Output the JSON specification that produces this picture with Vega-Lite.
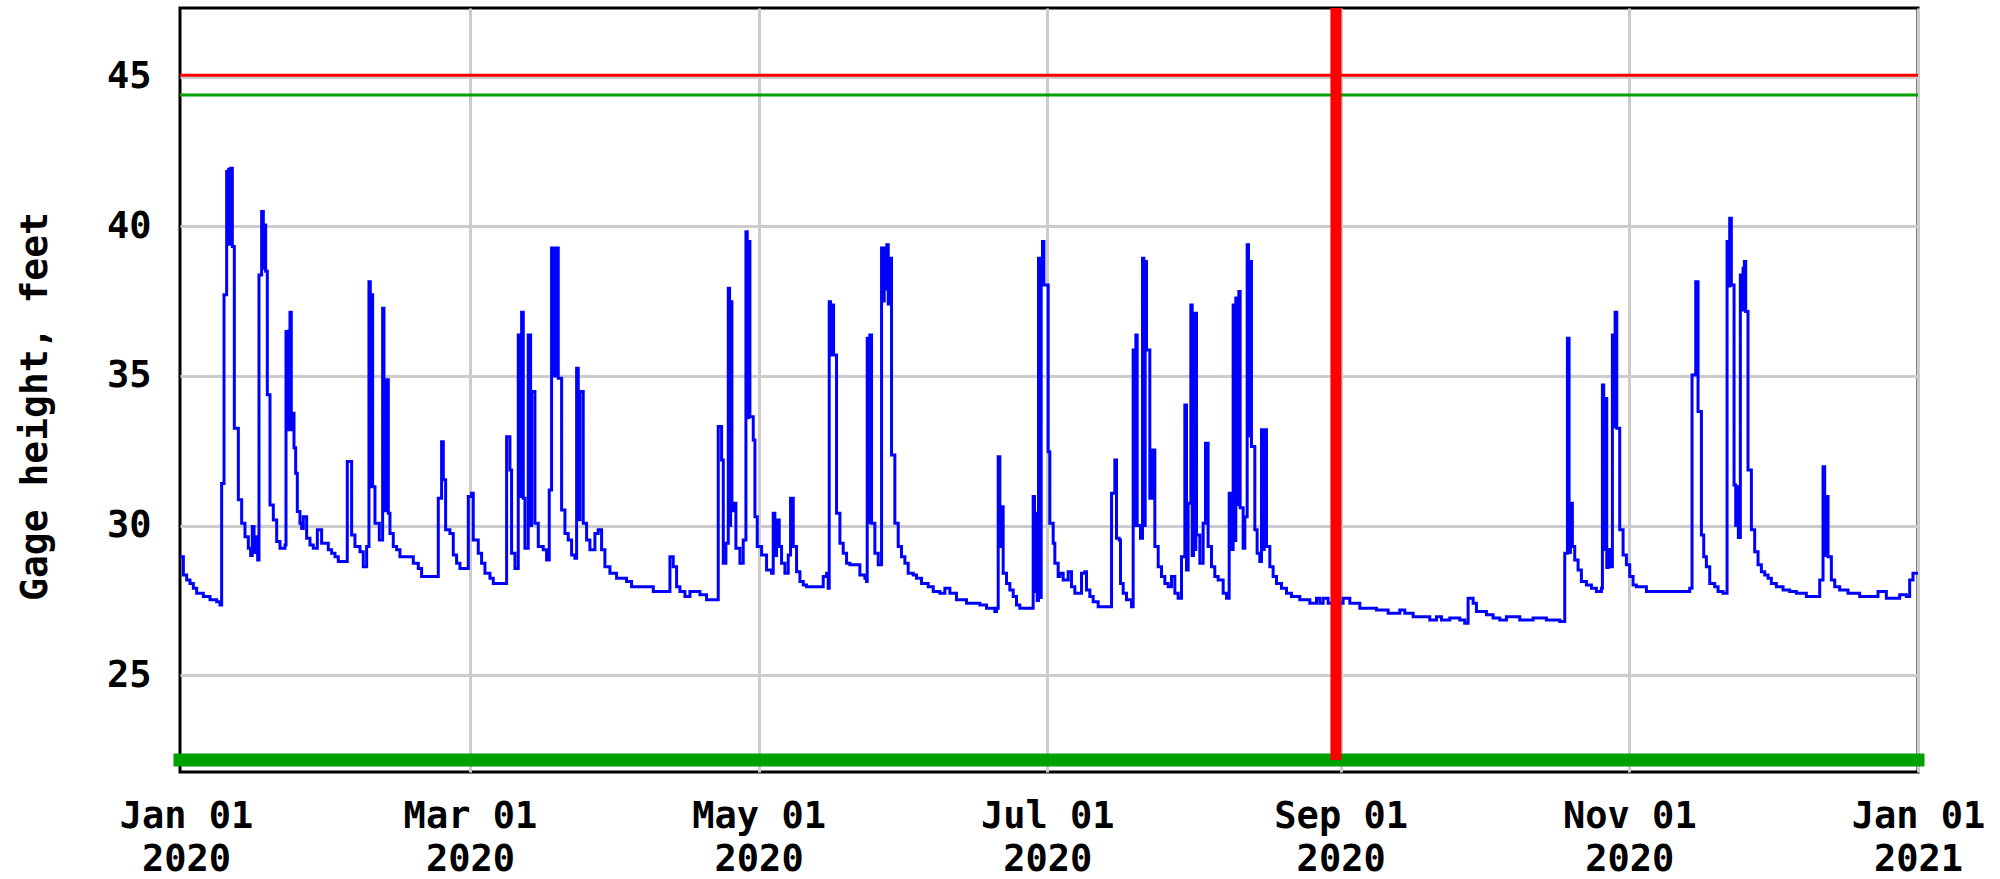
{
  "$schema": "https://vega.github.io/schema/vega-lite/v6.json",
  "width": 1738,
  "height": 764,
  "autosize": {"type": "none"},
  "padding": {"left": 180, "top": 8, "right": 82, "bottom": 107},
  "background": "white",
  "config": {"view": {"stroke": "black", "strokeWidth": 3}, "font": "DejaVu Sans Mono"},
  "datasets": {
    "gage": [
      {"day": -1.27, "stage": 28.96}, {"day": -0.56, "stage": 28.35}, {"day": 0.14, "stage": 28.18}, {"day": 0.84, "stage": 28.07},
      {"day": 1.55, "stage": 27.91}, {"day": 2.25, "stage": 27.74}, {"day": 3.66, "stage": 27.63}, {"day": 5.07, "stage": 27.52},
      {"day": 6.48, "stage": 27.46}, {"day": 7.18, "stage": 27.35}, {"day": 7.53, "stage": 31.41}, {"day": 8.03, "stage": 37.71},
      {"day": 8.59, "stage": 41.83}, {"day": 8.80, "stage": 39.4}, {"day": 9.01, "stage": 41.9}, {"day": 9.23, "stage": 39.4},
      {"day": 9.44, "stage": 41.94}, {"day": 9.79, "stage": 39.32}, {"day": 10.21, "stage": 33.25}, {"day": 11.06, "stage": 30.86},
      {"day": 11.76, "stage": 30.08}, {"day": 12.46, "stage": 29.63}, {"day": 13.17, "stage": 29.24}, {"day": 13.66, "stage": 29.0},
      {"day": 14.0, "stage": 29.97}, {"day": 14.37, "stage": 29.1}, {"day": 14.79, "stage": 29.63}, {"day": 15.14, "stage": 28.85},
      {"day": 15.42, "stage": 38.37}, {"day": 15.98, "stage": 40.49}, {"day": 16.34, "stage": 38.6}, {"day": 16.55, "stage": 40.04},
      {"day": 16.83, "stage": 38.5}, {"day": 17.18, "stage": 34.37}, {"day": 17.75, "stage": 30.69}, {"day": 18.45, "stage": 30.19},
      {"day": 19.16, "stage": 29.47}, {"day": 19.86, "stage": 29.24}, {"day": 20.92, "stage": 29.35}, {"day": 21.13, "stage": 36.48},
      {"day": 21.41, "stage": 33.2}, {"day": 21.69, "stage": 36.5}, {"day": 21.97, "stage": 37.13}, {"day": 22.25, "stage": 33.2},
      {"day": 22.54, "stage": 33.75}, {"day": 22.82, "stage": 32.6}, {"day": 23.17, "stage": 31.75}, {"day": 23.52, "stage": 30.47},
      {"day": 24.08, "stage": 30.08}, {"day": 24.44, "stage": 29.9}, {"day": 24.79, "stage": 30.3}, {"day": 25.49, "stage": 29.58},
      {"day": 26.2, "stage": 29.35}, {"day": 26.9, "stage": 29.24}, {"day": 27.75, "stage": 29.86}, {"day": 28.66, "stage": 29.41},
      {"day": 30.07, "stage": 29.19}, {"day": 30.77, "stage": 29.08}, {"day": 31.48, "stage": 28.96}, {"day": 32.18, "stage": 28.8},
      {"day": 34.08, "stage": 32.14}, {"day": 35.0, "stage": 29.69}, {"day": 35.7, "stage": 29.3}, {"day": 36.76, "stage": 29.13},
      {"day": 37.46, "stage": 28.63}, {"day": 38.17, "stage": 29.3}, {"day": 38.66, "stage": 38.15}, {"day": 38.94, "stage": 31.3},
      {"day": 39.15, "stage": 37.71}, {"day": 39.44, "stage": 31.3}, {"day": 39.93, "stage": 30.08}, {"day": 40.85, "stage": 29.52},
      {"day": 41.55, "stage": 37.26}, {"day": 41.83, "stage": 34.87}, {"day": 42.04, "stage": 30.5}, {"day": 42.25, "stage": 34.87},
      {"day": 42.75, "stage": 30.41}, {"day": 43.1, "stage": 29.74}, {"day": 43.8, "stage": 29.3}, {"day": 44.51, "stage": 29.19},
      {"day": 45.21, "stage": 28.96}, {"day": 48.03, "stage": 28.74}, {"day": 49.08, "stage": 28.57}, {"day": 49.79, "stage": 28.3},
      {"day": 53.31, "stage": 30.91}, {"day": 54.01, "stage": 32.8}, {"day": 54.37, "stage": 31.53}, {"day": 54.86, "stage": 29.86},
      {"day": 55.77, "stage": 29.74}, {"day": 56.48, "stage": 29.02}, {"day": 57.18, "stage": 28.74}, {"day": 57.89, "stage": 28.57},
      {"day": 59.65, "stage": 30.97}, {"day": 60.35, "stage": 31.08}, {"day": 60.7, "stage": 29.52}, {"day": 61.76, "stage": 29.08},
      {"day": 62.46, "stage": 28.74}, {"day": 63.17, "stage": 28.41}, {"day": 64.23, "stage": 28.24}, {"day": 64.93, "stage": 28.07},
      {"day": 67.75, "stage": 32.97}, {"day": 68.45, "stage": 31.86}, {"day": 68.8, "stage": 29.08}, {"day": 69.51, "stage": 28.57},
      {"day": 70.21, "stage": 36.37}, {"day": 70.71, "stage": 30.97}, {"day": 70.92, "stage": 37.13}, {"day": 71.27, "stage": 30.91},
      {"day": 71.62, "stage": 29.24}, {"day": 72.32, "stage": 36.37}, {"day": 72.82, "stage": 30.0}, {"day": 73.03, "stage": 34.48},
      {"day": 73.73, "stage": 30.08}, {"day": 74.44, "stage": 29.3}, {"day": 75.49, "stage": 29.19}, {"day": 76.2, "stage": 28.85},
      {"day": 76.76, "stage": 31.19}, {"day": 77.25, "stage": 39.27}, {"day": 77.6, "stage": 35.0}, {"day": 77.89, "stage": 39.27},
      {"day": 78.17, "stage": 35.0}, {"day": 78.38, "stage": 39.27}, {"day": 78.66, "stage": 34.92}, {"day": 79.37, "stage": 30.52},
      {"day": 80.07, "stage": 29.74}, {"day": 80.77, "stage": 29.52}, {"day": 81.48, "stage": 29.02}, {"day": 82.18, "stage": 28.91},
      {"day": 82.54, "stage": 35.26}, {"day": 82.89, "stage": 30.2}, {"day": 83.24, "stage": 34.48}, {"day": 83.94, "stage": 30.08},
      {"day": 84.65, "stage": 29.52}, {"day": 85.35, "stage": 29.19}, {"day": 86.41, "stage": 29.74}, {"day": 87.11, "stage": 29.86},
      {"day": 87.82, "stage": 29.19}, {"day": 88.52, "stage": 28.63}, {"day": 89.58, "stage": 28.41}, {"day": 90.99, "stage": 28.24},
      {"day": 93.1, "stage": 28.13}, {"day": 94.16, "stage": 27.96}, {"day": 98.74, "stage": 27.8}, {"day": 102.26, "stage": 28.96},
      {"day": 102.96, "stage": 28.63}, {"day": 103.67, "stage": 27.96}, {"day": 104.37, "stage": 27.8}, {"day": 105.43, "stage": 27.63},
      {"day": 106.49, "stage": 27.8}, {"day": 108.6, "stage": 27.69}, {"day": 110.0, "stage": 27.52}, {"day": 112.47, "stage": 33.31},
      {"day": 113.18, "stage": 32.19}, {"day": 113.53, "stage": 28.74}, {"day": 114.09, "stage": 29.41}, {"day": 114.59, "stage": 37.93},
      {"day": 114.87, "stage": 30.0}, {"day": 115.08, "stage": 37.48}, {"day": 115.36, "stage": 30.5}, {"day": 115.64, "stage": 30.75},
      {"day": 116.2, "stage": 29.24}, {"day": 117.05, "stage": 28.74}, {"day": 117.75, "stage": 29.52}, {"day": 118.32, "stage": 39.82},
      {"day": 118.6, "stage": 33.6}, {"day": 118.88, "stage": 39.49}, {"day": 119.16, "stage": 33.64}, {"day": 119.87, "stage": 32.86},
      {"day": 120.22, "stage": 30.3}, {"day": 120.71, "stage": 29.3}, {"day": 121.63, "stage": 29.02}, {"day": 122.68, "stage": 28.52},
      {"day": 123.74, "stage": 28.41}, {"day": 124.09, "stage": 30.41}, {"day": 124.44, "stage": 29.0}, {"day": 124.8, "stage": 30.19},
      {"day": 125.36, "stage": 29.3}, {"day": 125.85, "stage": 28.74}, {"day": 126.56, "stage": 28.41}, {"day": 127.26, "stage": 29.02},
      {"day": 127.75, "stage": 30.91}, {"day": 128.32, "stage": 29.3}, {"day": 129.02, "stage": 28.46}, {"day": 129.73, "stage": 28.13},
      {"day": 130.43, "stage": 28.02}, {"day": 131.13, "stage": 27.96}, {"day": 134.65, "stage": 28.3}, {"day": 135.36, "stage": 28.41},
      {"day": 135.71, "stage": 27.91}, {"day": 135.92, "stage": 37.48}, {"day": 136.2, "stage": 35.7}, {"day": 136.49, "stage": 37.37},
      {"day": 136.84, "stage": 35.7}, {"day": 137.47, "stage": 30.41}, {"day": 138.18, "stage": 29.41}, {"day": 138.88, "stage": 29.08},
      {"day": 139.59, "stage": 28.74}, {"day": 140.29, "stage": 28.69}, {"day": 142.4, "stage": 28.35}, {"day": 143.46, "stage": 28.24},
      {"day": 143.81, "stage": 28.13}, {"day": 143.95, "stage": 36.26}, {"day": 144.23, "stage": 30.1}, {"day": 144.51, "stage": 36.37},
      {"day": 144.87, "stage": 30.08}, {"day": 145.57, "stage": 29.08}, {"day": 146.28, "stage": 28.69}, {"day": 146.98, "stage": 39.27},
      {"day": 147.26, "stage": 37.5}, {"day": 147.54, "stage": 39.27}, {"day": 147.82, "stage": 37.9}, {"day": 148.1, "stage": 39.38},
      {"day": 148.39, "stage": 37.4}, {"day": 148.67, "stage": 38.93}, {"day": 149.09, "stage": 32.36}, {"day": 149.79, "stage": 30.08},
      {"day": 150.5, "stage": 29.3}, {"day": 151.2, "stage": 28.96}, {"day": 151.91, "stage": 28.74}, {"day": 152.61, "stage": 28.41},
      {"day": 153.67, "stage": 28.35}, {"day": 154.37, "stage": 28.24}, {"day": 155.43, "stage": 28.07}, {"day": 156.84, "stage": 27.96},
      {"day": 157.9, "stage": 27.8}, {"day": 159.3, "stage": 27.74}, {"day": 160.36, "stage": 27.91}, {"day": 161.42, "stage": 27.74},
      {"day": 162.82, "stage": 27.52}, {"day": 164.94, "stage": 27.41}, {"day": 167.75, "stage": 27.35}, {"day": 169.16, "stage": 27.24},
      {"day": 170.92, "stage": 27.13}, {"day": 171.27, "stage": 27.24}, {"day": 171.63, "stage": 32.3}, {"day": 171.98, "stage": 29.3},
      {"day": 172.33, "stage": 30.63}, {"day": 172.68, "stage": 28.41}, {"day": 173.39, "stage": 28.07}, {"day": 174.09, "stage": 27.85},
      {"day": 174.8, "stage": 27.63}, {"day": 175.5, "stage": 27.35}, {"day": 176.2, "stage": 27.24}, {"day": 179.02, "stage": 30.97},
      {"day": 179.3, "stage": 27.8}, {"day": 179.58, "stage": 30.41}, {"day": 179.87, "stage": 27.5}, {"day": 180.15, "stage": 38.93},
      {"day": 180.43, "stage": 27.6}, {"day": 180.71, "stage": 38.93}, {"day": 180.99, "stage": 39.49}, {"day": 181.28, "stage": 38.04},
      {"day": 182.19, "stage": 32.47}, {"day": 182.54, "stage": 30.08}, {"day": 183.25, "stage": 29.41}, {"day": 183.6, "stage": 28.74},
      {"day": 184.3, "stage": 28.3}, {"day": 184.66, "stage": 28.41}, {"day": 185.36, "stage": 28.18}, {"day": 186.42, "stage": 28.46},
      {"day": 187.12, "stage": 27.96}, {"day": 187.83, "stage": 27.74}, {"day": 189.24, "stage": 28.41}, {"day": 189.94, "stage": 28.46},
      {"day": 190.29, "stage": 27.85}, {"day": 191.0, "stage": 27.63}, {"day": 191.7, "stage": 27.46}, {"day": 192.76, "stage": 27.29},
      {"day": 195.58, "stage": 31.08}, {"day": 196.28, "stage": 32.19}, {"day": 196.63, "stage": 29.58}, {"day": 197.2, "stage": 29.52},
      {"day": 197.48, "stage": 28.07}, {"day": 198.04, "stage": 27.74}, {"day": 198.74, "stage": 27.52}, {"day": 199.8, "stage": 27.29},
      {"day": 200.15, "stage": 35.87}, {"day": 200.43, "stage": 30.0}, {"day": 200.72, "stage": 36.37}, {"day": 201.0, "stage": 30.0},
      {"day": 201.7, "stage": 29.58}, {"day": 202.13, "stage": 38.93}, {"day": 202.41, "stage": 30.0}, {"day": 202.69, "stage": 38.82},
      {"day": 202.97, "stage": 35.87}, {"day": 203.67, "stage": 30.91}, {"day": 204.24, "stage": 32.53}, {"day": 204.73, "stage": 29.3},
      {"day": 205.44, "stage": 28.63}, {"day": 206.14, "stage": 28.3}, {"day": 206.84, "stage": 28.07}, {"day": 207.55, "stage": 27.96},
      {"day": 208.25, "stage": 28.3}, {"day": 208.96, "stage": 27.74}, {"day": 209.66, "stage": 27.57}, {"day": 210.36, "stage": 28.96},
      {"day": 211.07, "stage": 34.03}, {"day": 211.42, "stage": 28.52}, {"day": 211.77, "stage": 30.75}, {"day": 212.34, "stage": 37.37},
      {"day": 212.62, "stage": 29.0}, {"day": 212.9, "stage": 37.09}, {"day": 213.18, "stage": 29.2}, {"day": 213.39, "stage": 37.09},
      {"day": 213.53, "stage": 29.69}, {"day": 214.24, "stage": 28.74}, {"day": 214.94, "stage": 30.08}, {"day": 215.43, "stage": 32.75},
      {"day": 215.99, "stage": 29.3}, {"day": 216.7, "stage": 28.63}, {"day": 217.4, "stage": 28.3}, {"day": 218.11, "stage": 28.18},
      {"day": 219.17, "stage": 27.74}, {"day": 219.87, "stage": 27.57}, {"day": 220.44, "stage": 31.08}, {"day": 220.93, "stage": 29.2},
      {"day": 221.28, "stage": 37.37}, {"day": 221.56, "stage": 29.5}, {"day": 221.84, "stage": 37.6}, {"day": 222.13, "stage": 30.7},
      {"day": 222.48, "stage": 37.82}, {"day": 222.76, "stage": 30.6}, {"day": 223.39, "stage": 29.24}, {"day": 223.75, "stage": 30.3},
      {"day": 224.24, "stage": 39.38}, {"day": 224.52, "stage": 33.0}, {"day": 224.8, "stage": 38.82}, {"day": 225.15, "stage": 32.64},
      {"day": 225.86, "stage": 29.86}, {"day": 226.35, "stage": 29.08}, {"day": 226.91, "stage": 28.8}, {"day": 227.27, "stage": 33.2},
      {"day": 227.55, "stage": 29.2}, {"day": 227.83, "stage": 33.2}, {"day": 228.32, "stage": 29.3}, {"day": 229.03, "stage": 28.63},
      {"day": 229.73, "stage": 28.3}, {"day": 230.44, "stage": 28.07}, {"day": 231.49, "stage": 27.91}, {"day": 232.55, "stage": 27.74},
      {"day": 233.6, "stage": 27.63}, {"day": 235.36, "stage": 27.52}, {"day": 237.48, "stage": 27.41}, {"day": 238.89, "stage": 27.57},
      {"day": 239.59, "stage": 27.41}, {"day": 240.3, "stage": 27.57}, {"day": 241.35, "stage": 27.41}, {"day": 244.52, "stage": 27.57},
      {"day": 245.93, "stage": 27.41}, {"day": 248.04, "stage": 27.24}, {"day": 251.56, "stage": 27.18}, {"day": 254.03, "stage": 27.07},
      {"day": 256.49, "stage": 27.18}, {"day": 257.55, "stage": 27.07}, {"day": 259.31, "stage": 26.96}, {"day": 262.83, "stage": 26.85},
      {"day": 264.24, "stage": 26.96}, {"day": 265.3, "stage": 26.85}, {"day": 267.06, "stage": 26.91}, {"day": 269.17, "stage": 26.85},
      {"day": 270.22, "stage": 26.74}, {"day": 270.93, "stage": 27.57}, {"day": 271.99, "stage": 27.41}, {"day": 272.69, "stage": 27.13},
      {"day": 274.8, "stage": 27.02}, {"day": 276.21, "stage": 26.91}, {"day": 277.62, "stage": 26.85}, {"day": 279.03, "stage": 26.96},
      {"day": 281.85, "stage": 26.85}, {"day": 284.66, "stage": 26.91}, {"day": 287.48, "stage": 26.85}, {"day": 290.3, "stage": 26.8},
      {"day": 291.35, "stage": 29.08}, {"day": 291.92, "stage": 36.26}, {"day": 292.27, "stage": 29.1}, {"day": 292.55, "stage": 30.75},
      {"day": 292.97, "stage": 29.3}, {"day": 293.46, "stage": 28.85}, {"day": 294.17, "stage": 28.52}, {"day": 294.87, "stage": 28.13},
      {"day": 295.93, "stage": 28.02}, {"day": 296.99, "stage": 27.91}, {"day": 298.04, "stage": 27.8}, {"day": 299.1, "stage": 27.91},
      {"day": 299.31, "stage": 34.7}, {"day": 299.59, "stage": 29.2}, {"day": 299.87, "stage": 34.25}, {"day": 300.23, "stage": 28.6},
      {"day": 300.51, "stage": 29.2}, {"day": 300.86, "stage": 28.63}, {"day": 301.42, "stage": 36.37}, {"day": 301.7, "stage": 33.3},
      {"day": 301.99, "stage": 37.13}, {"day": 302.34, "stage": 33.25}, {"day": 302.97, "stage": 29.86}, {"day": 303.68, "stage": 29.02},
      {"day": 304.38, "stage": 28.69}, {"day": 305.08, "stage": 28.3}, {"day": 305.79, "stage": 28.02}, {"day": 306.49, "stage": 27.96},
      {"day": 308.61, "stage": 27.8}, {"day": 317.76, "stage": 27.91}, {"day": 318.25, "stage": 35.03}, {"day": 319.03, "stage": 38.15},
      {"day": 319.52, "stage": 33.81}, {"day": 320.23, "stage": 29.69}, {"day": 320.72, "stage": 28.96}, {"day": 321.28, "stage": 28.63},
      {"day": 321.99, "stage": 28.07}, {"day": 323.04, "stage": 27.96}, {"day": 323.75, "stage": 27.8}, {"day": 324.8, "stage": 27.74},
      {"day": 325.65, "stage": 39.49}, {"day": 325.93, "stage": 38.0}, {"day": 326.21, "stage": 40.27}, {"day": 326.56, "stage": 38.04},
      {"day": 327.13, "stage": 31.36}, {"day": 327.48, "stage": 30.0}, {"day": 327.76, "stage": 31.3}, {"day": 328.04, "stage": 29.6},
      {"day": 328.46, "stage": 38.37}, {"day": 328.75, "stage": 37.2}, {"day": 329.03, "stage": 38.6}, {"day": 329.31, "stage": 38.82},
      {"day": 329.59, "stage": 37.15}, {"day": 330.08, "stage": 31.86}, {"day": 330.79, "stage": 29.86}, {"day": 331.49, "stage": 29.13},
      {"day": 332.2, "stage": 28.69}, {"day": 332.9, "stage": 28.46}, {"day": 333.61, "stage": 28.35}, {"day": 334.31, "stage": 28.24},
      {"day": 335.01, "stage": 28.07}, {"day": 336.07, "stage": 27.96}, {"day": 337.48, "stage": 27.85}, {"day": 338.89, "stage": 27.8},
      {"day": 340.3, "stage": 27.74}, {"day": 342.41, "stage": 27.63}, {"day": 345.23, "stage": 28.18}, {"day": 345.93, "stage": 31.97},
      {"day": 346.28, "stage": 29.0}, {"day": 346.63, "stage": 30.97}, {"day": 346.99, "stage": 28.96}, {"day": 347.69, "stage": 28.18},
      {"day": 348.4, "stage": 27.96}, {"day": 349.45, "stage": 27.85}, {"day": 351.21, "stage": 27.74}, {"day": 353.68, "stage": 27.63},
      {"day": 357.55, "stage": 27.8}, {"day": 359.31, "stage": 27.57}, {"day": 362.13, "stage": 27.69}, {"day": 363.54, "stage": 27.63},
      {"day": 364.24, "stage": 28.18}, {"day": 364.94, "stage": 28.41}, {"day": 365.98, "stage": 28.41}
    ]
  },
  "layer": [
    {
      "data": {"name": "gage"},
      "mark": {"type": "line", "interpolate": "step-after", "color": "#0000ff", "strokeWidth": 3},
      "encoding": {
        "x": {
          "field": "day",
          "type": "quantitative",
          "scale": {"domain": [-1.27, 366], "nice": false, "zero": false},
          "axis": {
            "values": [0, 60, 121, 182, 244, 305, 366],
            "title": null,
            "grid": true,
            "gridColor": "#cccccc",
            "gridWidth": 3,
            "gridOpacity": {"condition": {"test": "datum.value < 1", "value": 0}, "value": 1},
            "domain": false,
            "ticks": false,
            "tickSize": 0,
            "labelFont": "DejaVu Sans Mono",
            "labelFontWeight": "bold",
            "labelFontSize": 37,
            "labelColor": "black",
            "labelPadding": 26,
            "labelLineHeight": 43,
            "labelBaseline": "top",
            "labelAlign": "center",
            "labelOverlap": false,
            "labelFlush": false,
            "labelBound": false,
            "labelExpr": "[timeFormat(datetime(2020, 0, 1 + datum.value), '%b %d'), timeFormat(datetime(2020, 0, 1 + datum.value), '%Y')]"
          }
        },
        "y": {
          "field": "stage",
          "type": "quantitative",
          "scale": {"domain": [21.77, 47.29], "nice": false, "zero": false},
          "axis": {
            "values": [25, 30, 35, 40, 45],
            "title": "Gage height, feet",
            "grid": true,
            "gridColor": "#cccccc",
            "gridWidth": 3,
            "domain": false,
            "ticks": false,
            "tickSize": 0,
            "labelFont": "DejaVu Sans Mono",
            "labelFontWeight": "bold",
            "labelFontSize": 37,
            "labelColor": "black",
            "labelPadding": 29,
            "labelOverlap": false,
            "titleFont": "DejaVu Sans Mono",
            "titleFontWeight": "bold",
            "titleFontSize": 38,
            "titleColor": "black",
            "titleAngle": -90,
            "titleAlign": "center",
            "titleBaseline": "middle",
            "titleX": -145,
            "titleY": 398
          }
        }
      }
    },
    {
      "data": {"values": [{}]},
      "mark": {"type": "rule", "color": "#ff0000", "strokeWidth": 3},
      "encoding": {"y": {"datum": 45.04}}
    },
    {
      "data": {"values": [{}]},
      "mark": {"type": "rule", "color": "#00a000", "strokeWidth": 3},
      "encoding": {"y": {"datum": 44.38}}
    },
    {
      "data": {"values": [{}]},
      "mark": {"type": "rule", "color": "#00a000", "strokeWidth": 13, "strokeCap": "square"},
      "encoding": {"y": {"datum": 22.17}}
    },
    {
      "data": {"values": [{}]},
      "mark": {"type": "rule", "color": "#ff0000", "strokeWidth": 11},
      "encoding": {"x": {"datum": 243.0}, "y": {"datum": 22.17}, "y2": {"datum": 47.29}}
    }
  ]
}
